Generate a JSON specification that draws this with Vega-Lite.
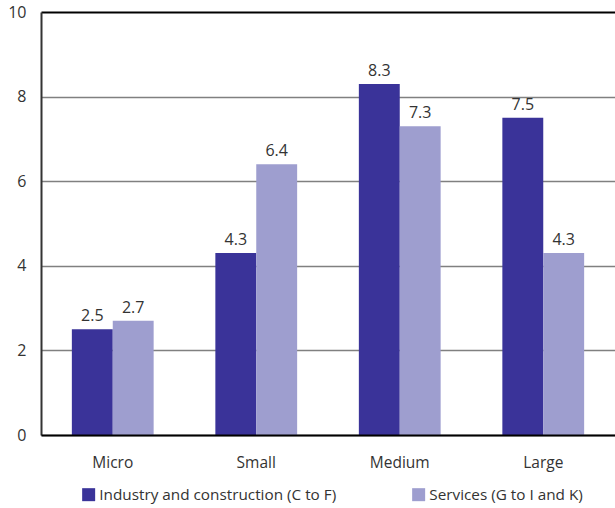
{
  "$schema": "https://vega.github.io/schema/vega-lite/v6.json",
  "width": 574,
  "height": 423,
  "autosize": {"type": "none"},
  "padding": {"left": 41, "top": 12, "right": 0, "bottom": 73},
  "config": {"view": {"stroke": null}, "font": "Open Sans"},
  "data": {
    "values": [
      {"size": "Micro", "sector": "Industry and construction (C to F)", "value": 2.5},
      {"size": "Micro", "sector": "Services (G to I and K)", "value": 2.7},
      {"size": "Small", "sector": "Industry and construction (C to F)", "value": 4.3},
      {"size": "Small", "sector": "Services (G to I and K)", "value": 6.4},
      {"size": "Medium", "sector": "Industry and construction (C to F)", "value": 8.3},
      {"size": "Medium", "sector": "Services (G to I and K)", "value": 7.3},
      {"size": "Large", "sector": "Industry and construction (C to F)", "value": 7.5},
      {"size": "Large", "sector": "Services (G to I and K)", "value": 4.3}
    ]
  },
  "encoding": {
    "x": {
      "field": "size",
      "type": "nominal",
      "sort": ["Micro", "Small", "Medium", "Large"],
      "scale": {"paddingInner": 0.43, "paddingOuter": 0.215},
      "axis": {
        "title": null,
        "labelAngle": 0,
        "ticks": false,
        "domainColor": "black",
        "domainWidth": 2,
        "labelPadding": 20,
        "labelFontSize": 15.5,
        "labelColor": "#333333",
        "zindex": 1
      }
    },
    "xOffset": {
      "field": "sector",
      "type": "nominal",
      "sort": ["Industry and construction (C to F)", "Services (G to I and K)"]
    },
    "y": {
      "field": "value",
      "type": "quantitative",
      "scale": {"domain": [0, 10]},
      "axis": {
        "title": null,
        "values": [0, 2, 4, 6, 8, 10],
        "ticks": false,
        "domainColor": "#333333",
        "domainWidth": 2,
        "labelPadding": 15,
        "labelFontSize": 16,
        "labelColor": "#333333",
        "grid": true,
        "gridColor": {"condition": {"test": "datum.value === 10", "value": "black"}, "value": "#808080"},
        "gridWidth": {"condition": {"test": "datum.value === 10", "value": 2}, "value": 1.5}
      }
    }
  },
  "layer": [
    {
      "mark": {"type": "bar"},
      "encoding": {
        "color": {
          "field": "sector",
          "type": "nominal",
          "sort": ["Industry and construction (C to F)", "Services (G to I and K)"],
          "scale": {"range": ["#3a3399", "#9e9ecf"]},
          "legend": {
            "title": null,
            "orient": "none",
            "legendX": 40,
            "legendY": 475,
            "direction": "horizontal",
            "symbolType": "square",
            "symbolSize": 169,
            "symbolStrokeWidth": 0,
            "symbolOpacity": 1,
            "labelOffset": 3,
            "labelFontSize": 15.3,
            "labelLimit": 0,
            "labelColor": "#333333",
            "columnPadding": 74
          }
        }
      }
    },
    {
      "mark": {"type": "text", "baseline": "alphabetic", "dy": -8, "fontSize": 16, "color": "#333333"},
      "encoding": {"text": {"field": "value", "type": "quantitative", "format": ".1f"}}
    }
  ]
}
